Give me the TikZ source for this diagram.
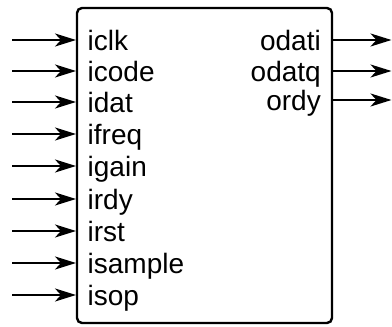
\documentclass[tikz,border=0pt]{standalone}
\usepackage{fontspec}
\setmainfont{Liberation Sans}
\usetikzlibrary{arrows.meta}
\begin{document}
\begin{tikzpicture}[x=1pt,y=-1pt,
  blk/.style={draw, line width=2.4pt, rounded corners=5pt, minimum width=255pt, minimum height=315pt, inner sep=0pt},
  sig/.style={line width=2.5pt, -{Stealth[length=21pt,width=13pt,inset=6pt]}},
  lbl/.style={font=\fontsize{28}{30}\selectfont, inner sep=0pt}]
\useasboundingbox (0,0) rectangle (392,327);
\node[blk] (box) at (204.5,165.5) {};
\foreach \n/\y in {iclk/40, icode/71, idat/102, ifreq/134, igain/166, irdy/199, irst/231, isample/263, isop/295} {
  \coordinate (s-\n) at (12,\y);
  \coordinate (e-\n) at (76,\y);
  \node[lbl, anchor=base west] (\n) at (87.5,\y+10) {\n};
  \draw[sig] (s-\n) -- (e-\n);
}
\foreach \n/\y in {odati/40, odatq/71, ordy/100} {
  \coordinate (s-\n) at (332,\y);
  \coordinate (e-\n) at (391.5,\y);
  \node[lbl, anchor=base east] (\n) at (321,\y+10) {\n};
  \draw[sig] (s-\n) -- (e-\n);
}
\end{tikzpicture}
\end{document}
